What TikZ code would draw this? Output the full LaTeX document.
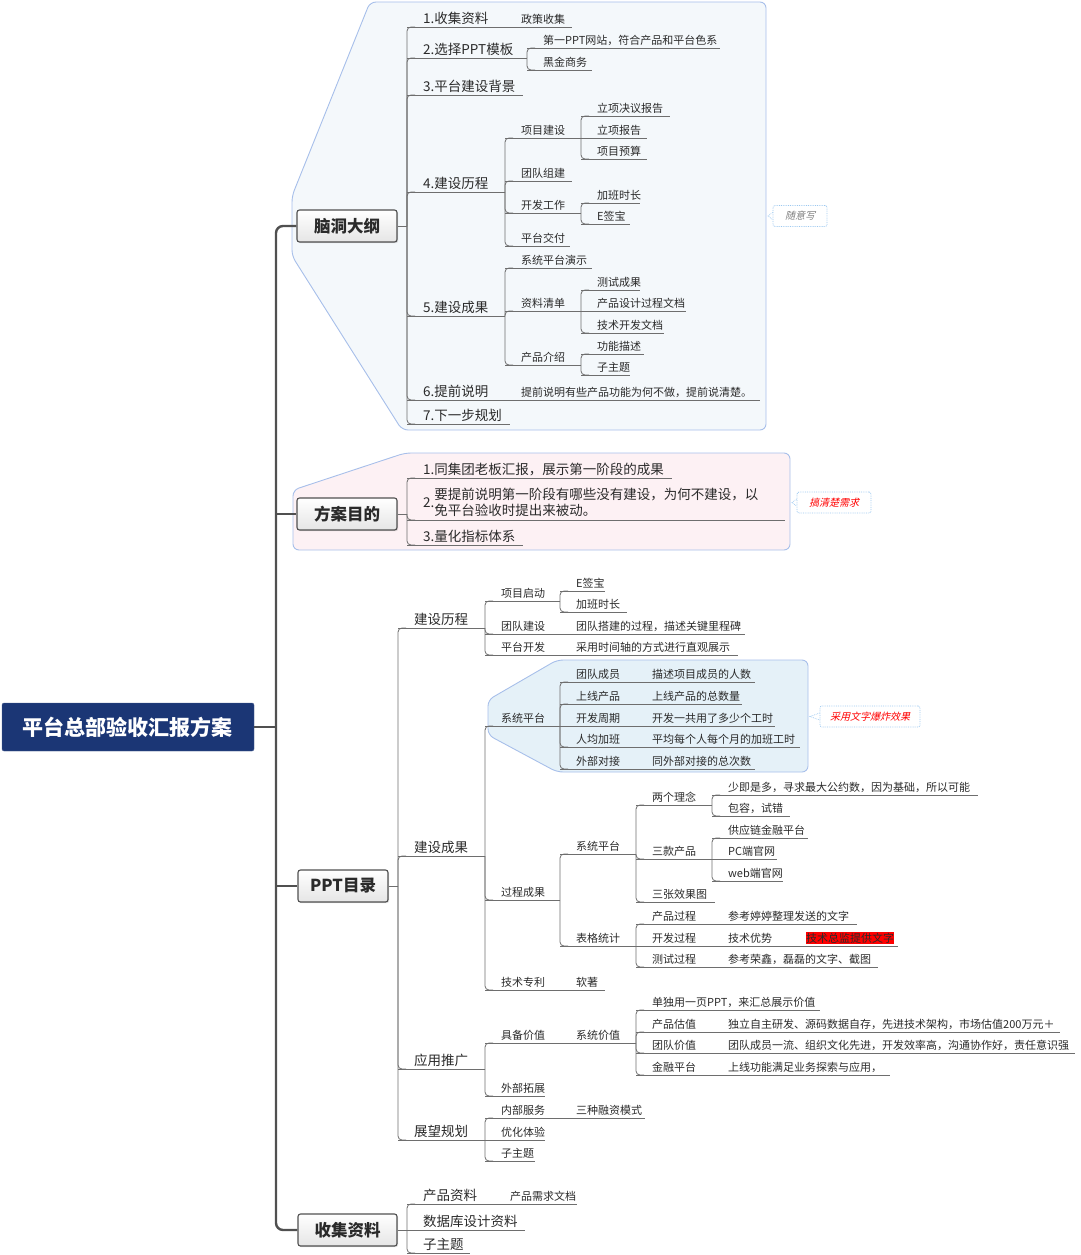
\documentclass[tikz,border=0pt]{standalone}
\usepackage{fontspec}
\setmainfont{Noto Sans CJK SC}
\newfontfamily\slantcjk{Noto Sans CJK SC}[FakeSlant=0.25]
\usetikzlibrary{shadows}

\definecolor{navy}{HTML}{1B3675}
\definecolor{trk}{HTML}{505050}
\definecolor{lin}{HTML}{6E6E6E}
\definecolor{txt}{HTML}{2A2A2A}
\definecolor{bgblue}{HTML}{F4F8FB}
\definecolor{bgpink}{HTML}{FDF1F4}
\definecolor{bgcyan}{HTML}{E5F1F8}
\definecolor{bgedge}{HTML}{A7BFEA}
\definecolor{calledge}{HTML}{9CC8F0}
\tikzstyle{bigtopic}=[anchor=base west, inner sep=0pt, text=txt,
                     font=\fontsize{13.5}{16}\selectfont]
\tikzstyle{subtopic}=[anchor=base west, inner sep=0pt, text=txt,
                     font=\fontsize{11}{13}\selectfont]
\tikzstyle{hilite}=[subtopic, fill=red, inner ysep=1pt]
\tikzstyle{uline}=[draw=lin, line width=0.8pt]
\tikzstyle{conn}=[draw=lin, line width=0.8pt, rounded corners=4pt]
\tikzstyle{trunk}=[draw=trk, line width=2.4pt]
\tikzstyle{bgshape}=[draw=bgedge, line width=0.9pt, rounded corners=6pt]
\tikzstyle{mainbox}=[draw=trk, line width=1.1pt, rounded corners=2.5pt,
                    top color=white, bottom color=black!10, text=txt,
                    minimum height=32pt, inner sep=0pt,
                    font=\fontsize{16.5}{18}\selectfont\bfseries,
                    drop shadow={opacity=0.25, shadow xshift=1.2pt, shadow yshift=-1.2pt}]
\tikzstyle{rootbox}=[fill=navy, draw=navy!80, rounded corners=2pt, text=white,
                    minimum width=252pt, minimum height=48pt,
                    font=\fontsize{21}{24}\selectfont\bfseries]
\tikzstyle{callout}=[draw=calledge, densely dotted, line width=0.8pt, fill=white,
                    rounded corners=2pt, minimum height=21pt, inner sep=0pt,
                    font=\fontsize{10}{12}\slantcjk]
\tikzstyle{callptr}=[draw=calledge, densely dotted, line width=0.7pt]

% name, line start, line end, line y, text
\newcommand\topic[6][subtopic]{%
  \coordinate (#2-l) at (#3,#5);
  \coordinate (#2-r) at (#4,#5);
  \draw[uline] (#2-l) -- (#2-r);
  \node[#1] (#2) at (#3+16,#5-3.5) {#6};
}

\begin{document}
\begin{tikzpicture}[x=1pt, y=-1pt]
  \useasboundingbox (0,0) rectangle (1080,1255);
  %
  % Group backgrounds
  \draw[bgshape, fill=bgblue] (292,196) -- (370,2) -- (766,2) -- (766,430)
       -- (402,430) -- (292,256) -- cycle;
  \draw[bgshape, fill=bgpink] (293,490) -- (405,453) -- (790,453) -- (790,550)
       -- (293,550) -- cycle;
  \draw[bgshape, fill=bgcyan] (488,700) -- (557,660) -- (808,660) -- (808,772)
       -- (557,772) -- (488,735) -- cycle;
  %
  % Root and main topics
  \node[rootbox] (root) at (128,727) {平台总部验收汇报方案};
  \node[mainbox, minimum width=100pt] (naodong) at (347,226) {脑洞大纲};
  \node[mainbox, minimum width=100pt] (fangan) at (347,514) {方案目的};
  \node[mainbox, minimum width=90pt] (ppt) at (343,886) {PPT目录};
  \node[mainbox, minimum width=99pt] (shouji) at (347.5,1230) {收集资料};
  \foreach \b in {naodong, fangan, ppt, shouji}
    \coordinate (\b-r) at (\b.east);
  %
  \coordinate (tk) at (276,727);
  \draw[trunk, rounded corners=7pt] (naodong.west) -| (tk) |- (shouji.west);
  \draw[trunk] (root.east) -- (tk);
  \draw[trunk] (tk |- fangan.west) -- (fangan.west);
  \draw[trunk] (tk |- ppt.west) -- (ppt.west);
  %
  % 脑洞大纲
  \topic[bigtopic]{n1}{407}{505}{27}{1.收集资料}
  \topic{n1a}{505}{572}{27}{政策收集}
  \topic[bigtopic]{n2}{407}{527}{58}{2.选择PPT模板}
  \topic{n2a}{527}{720}{48}{第一PPT网站，符合产品和平台色系}
  \topic{n2b}{527}{592}{70}{黑金商务}
  \topic[bigtopic]{n3}{407}{523}{95}{3.平台建设背景}
  \topic[bigtopic]{n4}{407}{505}{192}{4.建设历程}
  \topic{n4a}{505}{581}{138}{项目建设}
  \topic{n4a1}{581}{670}{116}{立项决议报告}
  \topic{n4a2}{581}{647}{138}{立项报告}
  \topic{n4a3}{581}{647}{159}{项目预算}
  \topic{n4b}{505}{572}{181}{团队组建}
  \topic{n4c}{505}{581}{213}{开发工作}
  \topic{n4c1}{581}{640}{203}{加班时长}
  \topic{n4c2}{581}{630}{224}{E签宝}
  \topic{n4d}{505}{570}{246}{平台交付}
  \topic[bigtopic]{n5}{407}{505}{316}{5.建设成果}
  \topic{n5a}{505}{592}{268}{系统平台演示}
  \topic{n5b}{505}{581}{311}{资料清单}
  \topic{n5b1}{581}{640}{290}{测试成果}
  \topic{n5b2}{581}{686}{311}{产品设计过程文档}
  \topic{n5b3}{581}{664}{333}{技术开发文档}
  \topic{n5c}{505}{581}{365}{产品介绍}
  \topic{n5c1}{581}{644}{354}{功能描述}
  \topic{n5c2}{581}{630}{375}{子主题}
  \topic[bigtopic]{n6}{407}{505}{400}{6.提前说明}
  \topic{n6a}{505}{760}{400}{提前说明有些产品功能为何不做，提前说清楚。}
  \topic[bigtopic]{n7}{407}{510}{424}{7.下一步规划}
  %
  % 方案目的
  \topic[bigtopic]{f1}{407}{672}{478}{1.同集团老板汇报，展示第一阶段的成果}
  \coordinate (f2-l) at (407,520);
  \coordinate (f2-r) at (785,520);
  \draw[uline] (f2-l) -- (f2-r);
  \node[bigtopic, anchor=west] (f2) at (423,504)
    {2.\begin{tabular}[c]{@{}l@{}}要提前说明第一阶段有哪些没有建设，为何不建设，以\\
     免平台验收时提出来被动。\end{tabular}};
  \topic[bigtopic]{f3}{407}{523}{545}{3.量化指标体系}
  %
  % PPT目录
  \topic[bigtopic]{p1}{398}{485}{628}{建设历程}
  \topic{p1a}{485}{560}{601}{项目启动}
  \topic{p1a1}{560}{605}{591}{E签宝}
  \topic{p1a2}{560}{627}{612}{加班时长}
  \topic{p1b}{485}{560}{634}{团队建设}
  \topic{p1bt}{560}{745}{634}{团队搭建的过程，描述关键里程碑}
  \topic{p1c}{485}{560}{655}{平台开发}
  \topic{p1ct}{560}{738}{655}{采用时间轴的方式进行直观展示}
  \topic[bigtopic]{p2}{398}{485}{856}{建设成果}
  \topic{p2a}{485}{560}{726}{系统平台}
  \topic{p2a1}{560}{636}{682}{团队成员}
  \topic{p2a1t}{636}{755}{682}{描述项目成员的人数}
  \topic{p2a2}{560}{636}{704}{上线产品}
  \topic{p2a2t}{636}{742}{704}{上线产品的总数量}
  \topic{p2a3}{560}{636}{726}{开发周期}
  \topic{p2a3t}{636}{775}{726}{开发一共用了多少个工时}
  \topic{p2a4}{560}{636}{747}{人均加班}
  \topic{p2a4t}{636}{800}{747}{平均每个人每个月的加班工时}
  \topic{p2a5}{560}{636}{769}{外部对接}
  \topic{p2a5t}{636}{755}{769}{同外部对接的总次数}
  \topic{p2b}{485}{560}{900}{过程成果}
  \topic{p2b1}{560}{636}{854}{系统平台}
  \topic{p2b1a}{636}{712}{805}{两个理念}
  \topic{p2b1a1}{712}{978}{795}{少即是多，寻求最大公约数，因为基础，所以可能}
  \topic{p2b1a2}{712}{790}{816}{包容，试错}
  \topic{p2b1b}{636}{712}{859}{三款产品}
  \topic{p2b1b1}{712}{808}{838}{供应链金融平台}
  \topic{p2b1b2}{712}{777}{859}{PC端官网}
  \topic{p2b1b3}{712}{783}{881}{web端官网}
  \topic{p2b1c}{636}{715}{902}{三张效果图}
  \topic{p2b2}{560}{636}{946}{表格统计}
  \topic{p2b2a}{636}{712}{924}{产品过程}
  \topic{p2b2at}{712}{857}{924}{参考婷婷整理发送的文字}
  \topic{p2b2b}{636}{712}{946}{开发过程}
  \topic{p2b2bt}{712}{790}{946}{技术优势}
  \topic[hilite]{p2b2bu}{790}{898}{946}{技术总监提供文字}
  \topic{p2b2c}{636}{712}{967}{测试过程}
  \topic{p2b2ct}{712}{878}{967}{参考荣鑫，磊磊的文字、截图}
  \topic{p2c}{485}{560}{990}{技术专利}
  \topic{p2ct}{560}{605}{990}{软著}
  \topic[bigtopic]{p3}{398}{485}{1069}{应用推广}
  \topic{p3a}{485}{560}{1043}{具备价值}
  \topic{p3a1}{560}{636}{1043}{系统价值}
  \topic{p3a1a}{636}{820}{1010}{单独用一页PPT，来汇总展示价值}
  \topic{p3a1b}{636}{712}{1032}{产品估值}
  \topic{p3a1bt}{712}{1060}{1032}{独立自主研发、源码数据自存，先进技术架构，市场估值200万元＋}
  \topic{p3a1c}{636}{712}{1053}{团队价值}
  \topic{p3a1ct}{712}{1075}{1053}{团队成员一流、组织文化先进，开发效率高，沟通协作好，责任意识强}
  \topic{p3a1d}{636}{712}{1075}{金融平台}
  \topic{p3a1dt}{712}{890}{1075}{上线功能满足业务探索与应用，}
  \topic{p3b}{485}{545}{1096}{外部拓展}
  \topic[bigtopic]{p4}{398}{485}{1140}{展望规划}
  \topic{p4a}{485}{560}{1118}{内部服务}
  \topic{p4at}{560}{645}{1118}{三种融资模式}
  \topic{p4b}{485}{545}{1140}{优化体验}
  \topic{p4c}{485}{535}{1161}{子主题}
  %
  % 收集资料
  \topic[bigtopic]{s1}{407}{494}{1204}{产品资料}
  \topic{s1t}{494}{577}{1204}{产品需求文档}
  \topic[bigtopic]{s2}{407}{525}{1230}{数据库设计资料}
  \topic[bigtopic]{s3}{407}{470}{1253}{子主题}
  %
  % Stubs from main topics, then brackets
  \foreach \b/\c in {naodong/n1, fangan/f1, ppt/p1, shouji/s1}
    \draw[conn] (\b-r) -- (\c-l |- \b-r);
  \foreach \p/\c in {naodong/n1, naodong/n2, naodong/n3, naodong/n4, naodong/n5,
           naodong/n6, naodong/n7, n2/n2a, n2/n2b, n4/n4a, n4/n4b, n4/n4c, n4/n4d,
           n4a/n4a1, n4a/n4a3, n4c/n4c1, n4c/n4c2, n5/n5a, n5/n5b, n5/n5c,
           n5b/n5b1, n5b/n5b3, n5c/n5c1, n5c/n5c2,
           fangan/f1, fangan/f2, fangan/f3,
           ppt/p1, ppt/p2, ppt/p3, ppt/p4, p1/p1a, p1/p1b, p1/p1c,
           p1a/p1a1, p1a/p1a2, p2/p2a, p2/p2b, p2/p2c,
           p2a/p2a1, p2a/p2a2, p2a/p2a4, p2a/p2a5, p2b/p2b1, p2b/p2b2,
           p2b1/p2b1a, p2b1/p2b1b, p2b1/p2b1c, p2b1a/p2b1a1, p2b1a/p2b1a2,
           p2b1b/p2b1b1, p2b1b/p2b1b3, p2b2/p2b2a, p2b2/p2b2c,
           p3/p3a, p3/p3b, p3a1/p3a1a, p3a1/p3a1b, p3a1/p3a1c, p3a1/p3a1d,
           p4/p4a, p4/p4c, shouji/s1, shouji/s3}
    \draw[conn] (\c-l |- \p-r) |- ([xshift=8pt]\c-l);
  %
  % Callouts
  \node[callout, text=gray, minimum width=54pt] (c1) at (800,216) {随意写};
  \node[callout, text=red, minimum width=74pt] (c2) at (834,502.5) {搞清楚需求};
  \node[callout, text=red, minimum width=100pt] (c3) at (870,716.5) {采用文字爆炸效果};
  \coordinate (bgA) at (768,216);
  \coordinate (bgB) at (792,502.5);
  \coordinate (bgC) at (810,716.5);
  \foreach \c/\t in {c1/bgA, c2/bgB, c3/bgC}
    \draw[callptr] ([yshift=3.5pt]\c.west) -- (\t) -- ([yshift=-3.5pt]\c.west);
\end{tikzpicture}
\end{document}
